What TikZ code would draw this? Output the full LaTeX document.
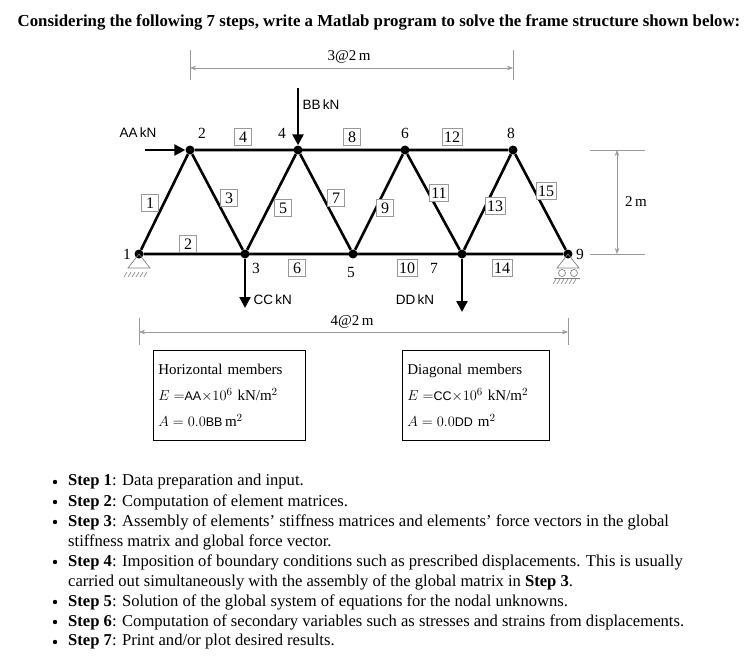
\documentclass[tikz,border=0pt]{standalone}
\usepackage{fontspec}
\setmainfont{Liberation Serif}
\newfontfamily\sfl{Liberation Sans}
\usetikzlibrary{arrows.meta}
\tikzset{
 mem/.style={line width=2.6pt},
 jt/.style={circle,fill=black,inner sep=0pt,minimum size=9pt},
 lbl/.style={draw=gray!80,line width=0.6pt,fill=white,inner sep=2pt,minimum size=17pt,font=\fontsize{16}{16}\selectfont},
 nn/.style={font=\fontsize{15.5}{16}\selectfont},
 ld/.style={line width=2.4pt,-{Triangle[length=11pt,width=11pt]}},
 ldl/.style={font=\sfl\fontsize{13.5}{14}\selectfont},
 dim/.style={gray!80,line width=0.6pt},
 bul/.style={anchor=west,font=\fontsize{16.6}{18}\selectfont,inner sep=0pt}
}
\begin{document}
\begin{tikzpicture}[x=1pt,y=-1pt]
\useasboundingbox (0,0) rectangle (756,661);
\node[anchor=center,font=\bfseries\fontsize{16.8}{18}\selectfont] (title) at (379,22) {Considering the following 7 steps, write a Matlab program to solve the frame structure shown below:};
% joints
\foreach \n/\x/\y in {1/139/254,2/190/150,3/245/254,4/298/150,5/353/254,6/405/150,7/462/254,8/513/150,9/568/254}
  \node[jt] (j\n) at (\x,\y) {};
% dims
\coordinate (t1) at (190,50); \coordinate (t2) at (190,80);
\coordinate (t3) at (513,50); \coordinate (t4) at (513,80);
\draw[dim] (t1)--(t2) (t3)--(t4);
\draw[dim,{Stealth[length=6pt]}-{Stealth[length=6pt]}] (190,68)--(513,68);
\node[font=\fontsize{15}{15}\selectfont] (td) at (349,57) {3@2\,m};
\draw[dim] (139,318)--(139,345) (568,318)--(568,345);
\draw[dim,{Stealth[length=6pt]}-{Stealth[length=6pt]}] (139,332)--(568,332);
\node[font=\fontsize{15}{15}\selectfont] (bd) at (352,322) {4@2\,m};
\draw[dim] (590,150)--(645,150) (590,254)--(645,254);
\draw[dim,{Stealth[length=6pt]}-{Stealth[length=6pt]}] (617,150)--(617,254);
\node[font=\fontsize{15}{15}\selectfont] (rd) at (636,202) {2\,m};
% supports
\draw[gray,line width=0.7pt] (139,254)--(128,268)--(150,268)--cycle;
\foreach \i in {0,...,5} \draw[gray,line width=0.6pt] (127+\i*4,272)--(124+\i*4,277);
\draw[gray,line width=0.7pt] (568,254)--(557,268)--(579,268)--cycle;
\draw[gray,line width=0.7pt] (562,273) circle (3.5) (574,273) circle (3.5);
\foreach \i in {0,...,5} \draw[gray,line width=0.6pt] (556+\i*4,279)--(553+\i*4,284);
\draw[gray,line width=0.6pt] (554,278)--(580,278);
% members
\draw[mem] (j1)--(j9) (j2)--(j8) (j1)--(j2)--(j3)--(j4)--(j5)--(j6)--(j7)--(j8)--(j9);
% loads
\coordinate (aa) at (145,150);
\draw[ld] (aa)--(j2);
\node[ldl] (aal) at (138,133) {AA\,kN};
\coordinate (bb) at (298,88);
\draw[ld] (bb)--(j4);
\node[ldl,anchor=west] (bbl) at (299,105) {BB\,kN};
\coordinate (cc) at (245,308);
\draw[ld] (j3)--(cc);
\node[ldl,anchor=west] (ccl) at (250,300) {CC\,kN};
\coordinate (dd) at (462,312);
\draw[ld] (j7)--(dd);
\node[ldl] (ddl) at (415,300) {DD\,kN};
% member labels
\foreach \t/\x/\y in {1/150/203,2/188/244,3/229/198,4/243/137,5/283/208,6/297/268,7/336/198,8/352/137,9/385/208,10/407/268,11/439/193,12/452/137,13/495/206,14/502/268,15/546/191}
  \node[lbl] (m\t) at (\x,\y) {\t};
% node numbers
\foreach \t/\x/\y in {1/127/254,2/202/133,3/256/268,4/282/133,5/351/273,6/405/133,7/434/268,8/511/133,9/580/254}
  \node[nn] (n\t) at (\x,\y) {\t};
% boxes
\node[draw,line width=0.7pt,anchor=north west,minimum width=152pt,minimum height=90pt,align=left,text width=142pt,inner sep=5pt,font=\fontsize{15}{26}\selectfont] (hb) at (153,350)
 {Horizontal members\\ $E=${\sfl\fontsize{12.5}{12}\selectfont AA}$\times 10^6$ kN/m$^2$\\ $A=0.0${\sfl\fontsize{12.5}{12}\selectfont BB}\,m$^2$};
\node[draw,line width=0.7pt,anchor=north west,minimum width=147pt,minimum height=90pt,align=left,text width=137pt,inner sep=5pt,font=\fontsize{15}{26}\selectfont] (db) at (402,350)
 {Diagonal members\\ $E=${\sfl\fontsize{12.5}{12}\selectfont CC}$\times 10^6$ kN/m$^2$\\ $A=0.0${\sfl\fontsize{12.5}{12}\selectfont DD} m$^2$};
% bullets
\foreach \y in {482,502,522,562,602,622,642} \fill (55,\y) circle (2.2);
\node[bul] (s1) at (68,482) {\textbf{Step 1}: Data preparation and input.};
\node[bul] (s2) at (68,502) {\textbf{Step 2}: Computation of element matrices.};
\node[bul] (s3) at (68,522) {\textbf{Step 3}: Assembly of elements’ stiffness matrices and elements’ force vectors in the global};
\node[bul] (s3b) at (68,542) {stiffness matrix and global force vector.};
\node[bul] (s4) at (68,562) {\textbf{Step 4}: Imposition of boundary conditions such as prescribed displacements. This is usually};
\node[bul] (s4b) at (68,582) {carried out simultaneously with the assembly of the global matrix in \textbf{Step 3}.};
\node[bul] (s5) at (68,602) {\textbf{Step 5}: Solution of the global system of equations for the nodal unknowns.};
\node[bul] (s6) at (68,622) {\textbf{Step 6}: Computation of secondary variables such as stresses and strains from displacements.};
\node[bul] (s7) at (68,642) {\textbf{Step 7}: Print and/or plot desired results.};
\end{tikzpicture}
\end{document}
